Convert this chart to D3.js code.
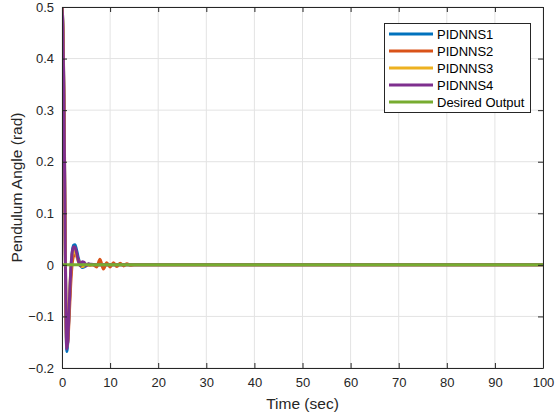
<!DOCTYPE html>
<html>
<head>
<meta charset="utf-8">
<script src="https://cdn.jsdelivr.net/npm/d3@7"></script>
<style>
  body { margin: 0; background: #fff; }
  svg { font-family: "Liberation Sans", Arial, sans-serif; }
</style>
</head>
<body>
<div id="chart"></div>
<script>
// chart data
var timeMain = [0, 0.2, 0.4, 0.6, 0.8, 1.0, 1.2, 1.5, 1.8, 2.1, 2.4, 2.7, 3.0, 3.4, 3.8, 4.2, 4.6, 5.0, 5.5, 6, 7, 8, 10, 15, 20, 100];
var pidnns1 = [0.5, 0.46, 0.33, 0.12, -0.08, -0.168, -0.15, -0.085, -0.02, 0.022, 0.038, 0.039, 0.030, 0.013, 0.001, -0.005, -0.004, -0.001, 0.001, 0.0005, 0, 0, 0, 0, 0, 0];
var pidnns3 = [0.5, 0.45, 0.31, 0.10, -0.09, -0.16, -0.14, -0.075, -0.015, 0.02, 0.028, 0.026, 0.018, 0.006, -0.001, -0.003, -0.002, 0, 0.001, 0, 0, 0, 0, 0, 0, 0];
var pidnns4 = [0.5, 0.45, 0.32, 0.11, -0.085, -0.163, -0.148, -0.08, -0.015, 0.022, 0.035, 0.034, 0.025, 0.008, -0.002, 0.006, 0.005, -0.002, 0.002, 0.001, 0, 0, 0, 0, 0, 0];

var time2 = [0, 0.2, 0.4, 0.6, 0.8, 1.0, 1.2, 1.5, 1.8, 2.1, 2.5, 2.9, 3.3, 3.8, 4.3, 5.0, 5.8, 6.5, 7.2, 7.9, 8.6, 9.3, 10.0, 10.7, 11.4, 12.1, 12.8, 13.5, 14.2, 15, 20, 100];
var pidnns2 = [0.5, 0.46, 0.34, 0.13, -0.07, -0.155, -0.15, -0.1, -0.04, 0.0, 0.018, 0.02, 0.012, 0.002, -0.003, 0.001, -0.001, 0.0, -0.004, 0.011, -0.008, 0.004, -0.004, 0.004, -0.003, 0.003, -0.002, 0.002, -0.001, 0, 0, 0];

var desiredTime = [0, 100];
var desired = [0, 0];

var seriesNames = ["PIDNNS1", "PIDNNS2", "PIDNNS3", "PIDNNS4", "Desired Output"];
var seriesColors = ["#0072BD", "#D95319", "#EDB120", "#7E2F8E", "#77AC30"];

var xTicks = [0, 10, 20, 30, 40, 50, 60, 70, 80, 90, 100];
var yTicks = [-0.2, -0.1, 0, 0.1, 0.2, 0.3, 0.4, 0.5];

// chart setup
var svgWidth = 555;
var svgHeight = 414;
var margin = { top: 7, right: 12, bottom: 46, left: 62 };
var width = svgWidth - margin.left - margin.right;
var height = svgHeight - margin.top - margin.bottom;

var svg = d3.select("#chart").append("svg")
  .attr("width", svgWidth)
  .attr("height", svgHeight);

var chartGroup = svg.append("g")
  .attr("transform", `translate(${margin.left}, ${margin.top})`);

var x = d3.scaleLinear().domain([0, 100]).range([0, width]);
var y = d3.scaleLinear().domain([-0.2, 0.5]).range([height, 0]);

// grid
chartGroup.append("g").selectAll("line.gx")
  .data(xTicks).enter().append("line")
  .attr("x1", d => x(d)).attr("x2", d => x(d))
  .attr("y1", 0).attr("y2", height)
  .attr("stroke", "#e3e3e3").attr("stroke-width", 1);
chartGroup.append("g").selectAll("line.gy")
  .data(yTicks).enter().append("line")
  .attr("x1", 0).attr("x2", width)
  .attr("y1", d => y(d)).attr("y2", d => y(d))
  .attr("stroke", "#e3e3e3").attr("stroke-width", 1);

// lines
svg.append("defs").append("clipPath").attr("id", "clip")
  .append("rect").attr("x", 0).attr("y", 0).attr("width", width).attr("height", height);

var lineGen = d3.line()
  .x(d => x(d[0]))
  .y(d => y(d[1]))
  .curve(d3.curveMonotoneX);

var allSeries = [
  { t: timeMain, v: pidnns1 },
  { t: time2, v: pidnns2 },
  { t: timeMain, v: pidnns3 },
  { t: timeMain, v: pidnns4 },
  { t: desiredTime, v: desired }
];

var linesGroup = chartGroup.append("g").attr("clip-path", "url(#clip)");
allSeries.forEach(function(s, i) {
  linesGroup.append("path")
    .datum(d3.zip(s.t, s.v))
    .attr("d", lineGen)
    .attr("fill", "none")
    .attr("stroke", seriesColors[i])
    .attr("stroke-width", 3)
    .attr("stroke-linejoin", "round");
});

// axes (ticks inside, box on)
var axisColor = "#262626";
var bottomAxis = d3.axisBottom(x).tickValues(xTicks).tickSizeInner(-5).tickSizeOuter(0).tickPadding(10);
var leftAxis = d3.axisLeft(y).tickValues(yTicks).tickSizeInner(-5).tickSizeOuter(0).tickPadding(8)
  .tickFormat(d => d === 0 ? "0" : d3.format(".1f")(d));
var topAxis = d3.axisTop(x).tickValues(xTicks).tickSizeInner(-5).tickSizeOuter(0).tickFormat("");
var rightAxis = d3.axisRight(y).tickValues(yTicks).tickSizeInner(-5).tickSizeOuter(0).tickFormat("");

var axes = [
  chartGroup.append("g").attr("transform", `translate(0, ${height})`).call(bottomAxis),
  chartGroup.append("g").call(leftAxis),
  chartGroup.append("g").call(topAxis),
  chartGroup.append("g").attr("transform", `translate(${width}, 0)`).call(rightAxis)
];
axes.forEach(function(a) {
  a.selectAll("path").attr("stroke", axisColor);
  a.selectAll("line").attr("stroke", axisColor);
  a.selectAll("text").attr("fill", axisColor).style("font-size", "13px").style("font-family", "Liberation Sans, Arial, sans-serif");
});

// axis labels
svg.append("text")
  .attr("x", margin.left + width / 2)
  .attr("y", 409)
  .attr("text-anchor", "middle")
  .attr("fill", axisColor)
  .style("font-size", "15.5px")
  .text("Time (sec)");

svg.append("text")
  .attr("transform", `translate(22, ${margin.top + height / 2}) rotate(-90)`)
  .attr("text-anchor", "middle")
  .attr("fill", axisColor)
  .style("font-size", "15.5px")
  .text("Pendulum Angle (rad)");

// legend
var legend = svg.append("g").attr("transform", "translate(384, 23)");
legend.append("rect")
  .attr("x", 0.5).attr("y", 0.5)
  .attr("width", 146).attr("height", 89)
  .attr("fill", "#fff")
  .attr("stroke", axisColor)
  .attr("stroke-width", 1);
seriesNames.forEach(function(name, i) {
  var ly = 11 + i * 17;
  legend.append("line")
    .attr("x1", 5).attr("x2", 49)
    .attr("y1", ly).attr("y2", ly)
    .attr("stroke", seriesColors[i])
    .attr("stroke-width", 3);
  legend.append("text")
    .attr("x", 53).attr("y", ly + 4.5)
    .attr("fill", "#000")
    .style("font-size", "13px")
    .text(name);
});
</script>
</body>
</html>
